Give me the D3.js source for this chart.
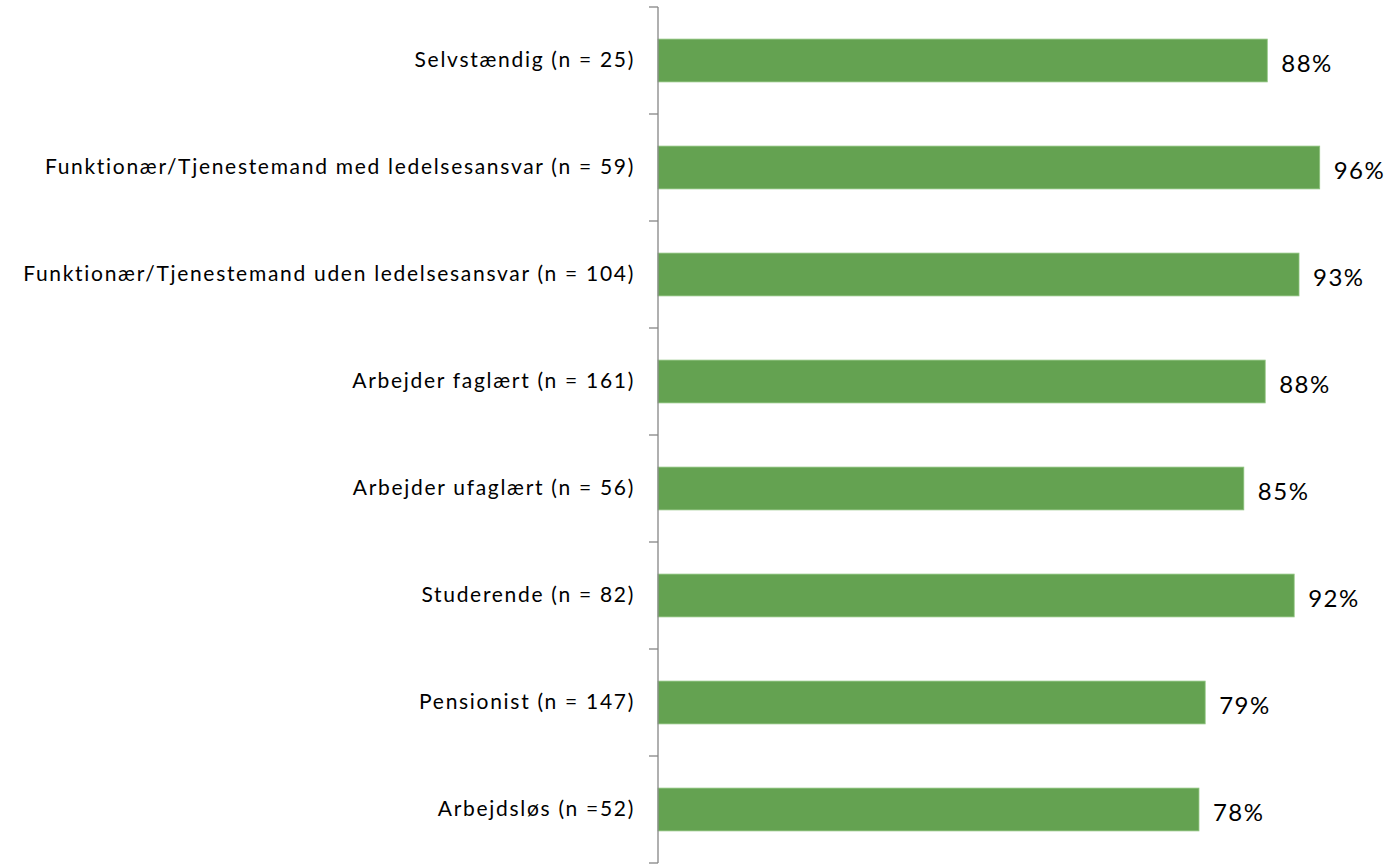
<!DOCTYPE html>
<html>
<head>
<meta charset="utf-8">
<script src="https://cdn.jsdelivr.net/npm/d3@7"></script>
<style>
  body { margin: 0; background: #fff; }
  .axis path, .axis line { stroke: #868686; }
  .axis text { font-family: Lato, sans-serif; font-size: 21px; letter-spacing: 1.7px; fill: #000; }
  .val { font-family: Lato, sans-serif; font-size: 24px; letter-spacing: 1.5px; fill: #000; }
</style>
</head>
<body>
<div class="bar-chart"></div>
<script>
const categories = [
    "Selvstændig (n = 25)",
    "Funktionær/Tjenestemand med ledelsesansvar (n = 59)",
    "Funktionær/Tjenestemand uden ledelsesansvar (n = 104)",
    "Arbejder faglært (n = 161)",
    "Arbejder ufaglært (n = 56)",
    "Studerende (n = 82)",
    "Pensionist (n = 147)",
    "Arbejdsløs (n =52)"
];
const values = [0.883, 0.959, 0.929, 0.880, 0.849, 0.922, 0.793, 0.784];
const valueLabels = ["88%", "96%", "93%", "88%", "85%", "92%", "79%", "78%"];

function BarChart(container){
    const margin = {top:7, left:658, right:44, bottom:4};

    const width = 1392 - margin.left - margin.right,
        height = 867 - margin.top - margin.bottom;

    const svg = d3.select(container)
        .append('svg')
        .attr("width", width + margin.left + margin.right)
        .attr("height", height + margin.top + margin.bottom);

    const gr = svg.append("g")
        .attr("transform", "translate(" + margin.left + "," + margin.top + ")");

    const xScale = d3.scaleLinear()
        .range([0, width]);

    const yScale = d3.scaleBand()
        .range([0, height])
        .paddingInner(0.6)
        .paddingOuter(0.3);

    const yAxis = d3.axisLeft()
        .scale(yScale)
        .tickSize(0)
        .tickPadding(23);

    function update(){
        const data = categories.map((c, i) => ({cat: c, value: values[i], label: valueLabels[i]}));

        xScale.domain([0, 1]);
        yScale.domain(categories);

        gr.selectAll(".bar")
            .data(data)
            .join("rect")
            .attr("class", "bar")
            .attr("x", 0)
            .attr("y", d => yScale(d.cat))
            .attr("width", d => xScale(d.value))
            .attr("height", yScale.bandwidth())
            .attr("fill", "#64a251")
            .attr("stroke", "#8fc47f")
            .attr("stroke-width", 0.8);

        gr.selectAll(".val")
            .data(data)
            .join("text")
            .attr("class", "val")
            .attr("x", d => xScale(d.value) + 14)
            .attr("y", d => yScale(d.cat) + yScale.bandwidth() / 2 + 11)
            .text(d => d.label);

        const yAxGr = gr.append("g")
            .attr("class", "axis y-axis")
            .call(yAxis);
        yAxGr.select(".domain").remove();

        // axis line with tick marks between the categories
        const boundaries = d3.range(categories.length + 1).map(i => i * height / categories.length);
        gr.append("line")
            .attr("class", "axline")
            .attr("x1", 0).attr("x2", 0)
            .attr("y1", 0).attr("y2", height)
            .attr("stroke", "#868686")
            .attr("stroke-width", 1.3);
        gr.selectAll(".tk")
            .data(boundaries)
            .join("line")
            .attr("class", "tk")
            .attr("x1", -9).attr("x2", 0)
            .attr("y1", d => d).attr("y2", d => d)
            .attr("stroke", "#868686")
            .attr("stroke-width", 1.3);
    }

    return {
        update
    };
}

const barChart = BarChart(".bar-chart");
barChart.update();
</script>
</body>
</html>
